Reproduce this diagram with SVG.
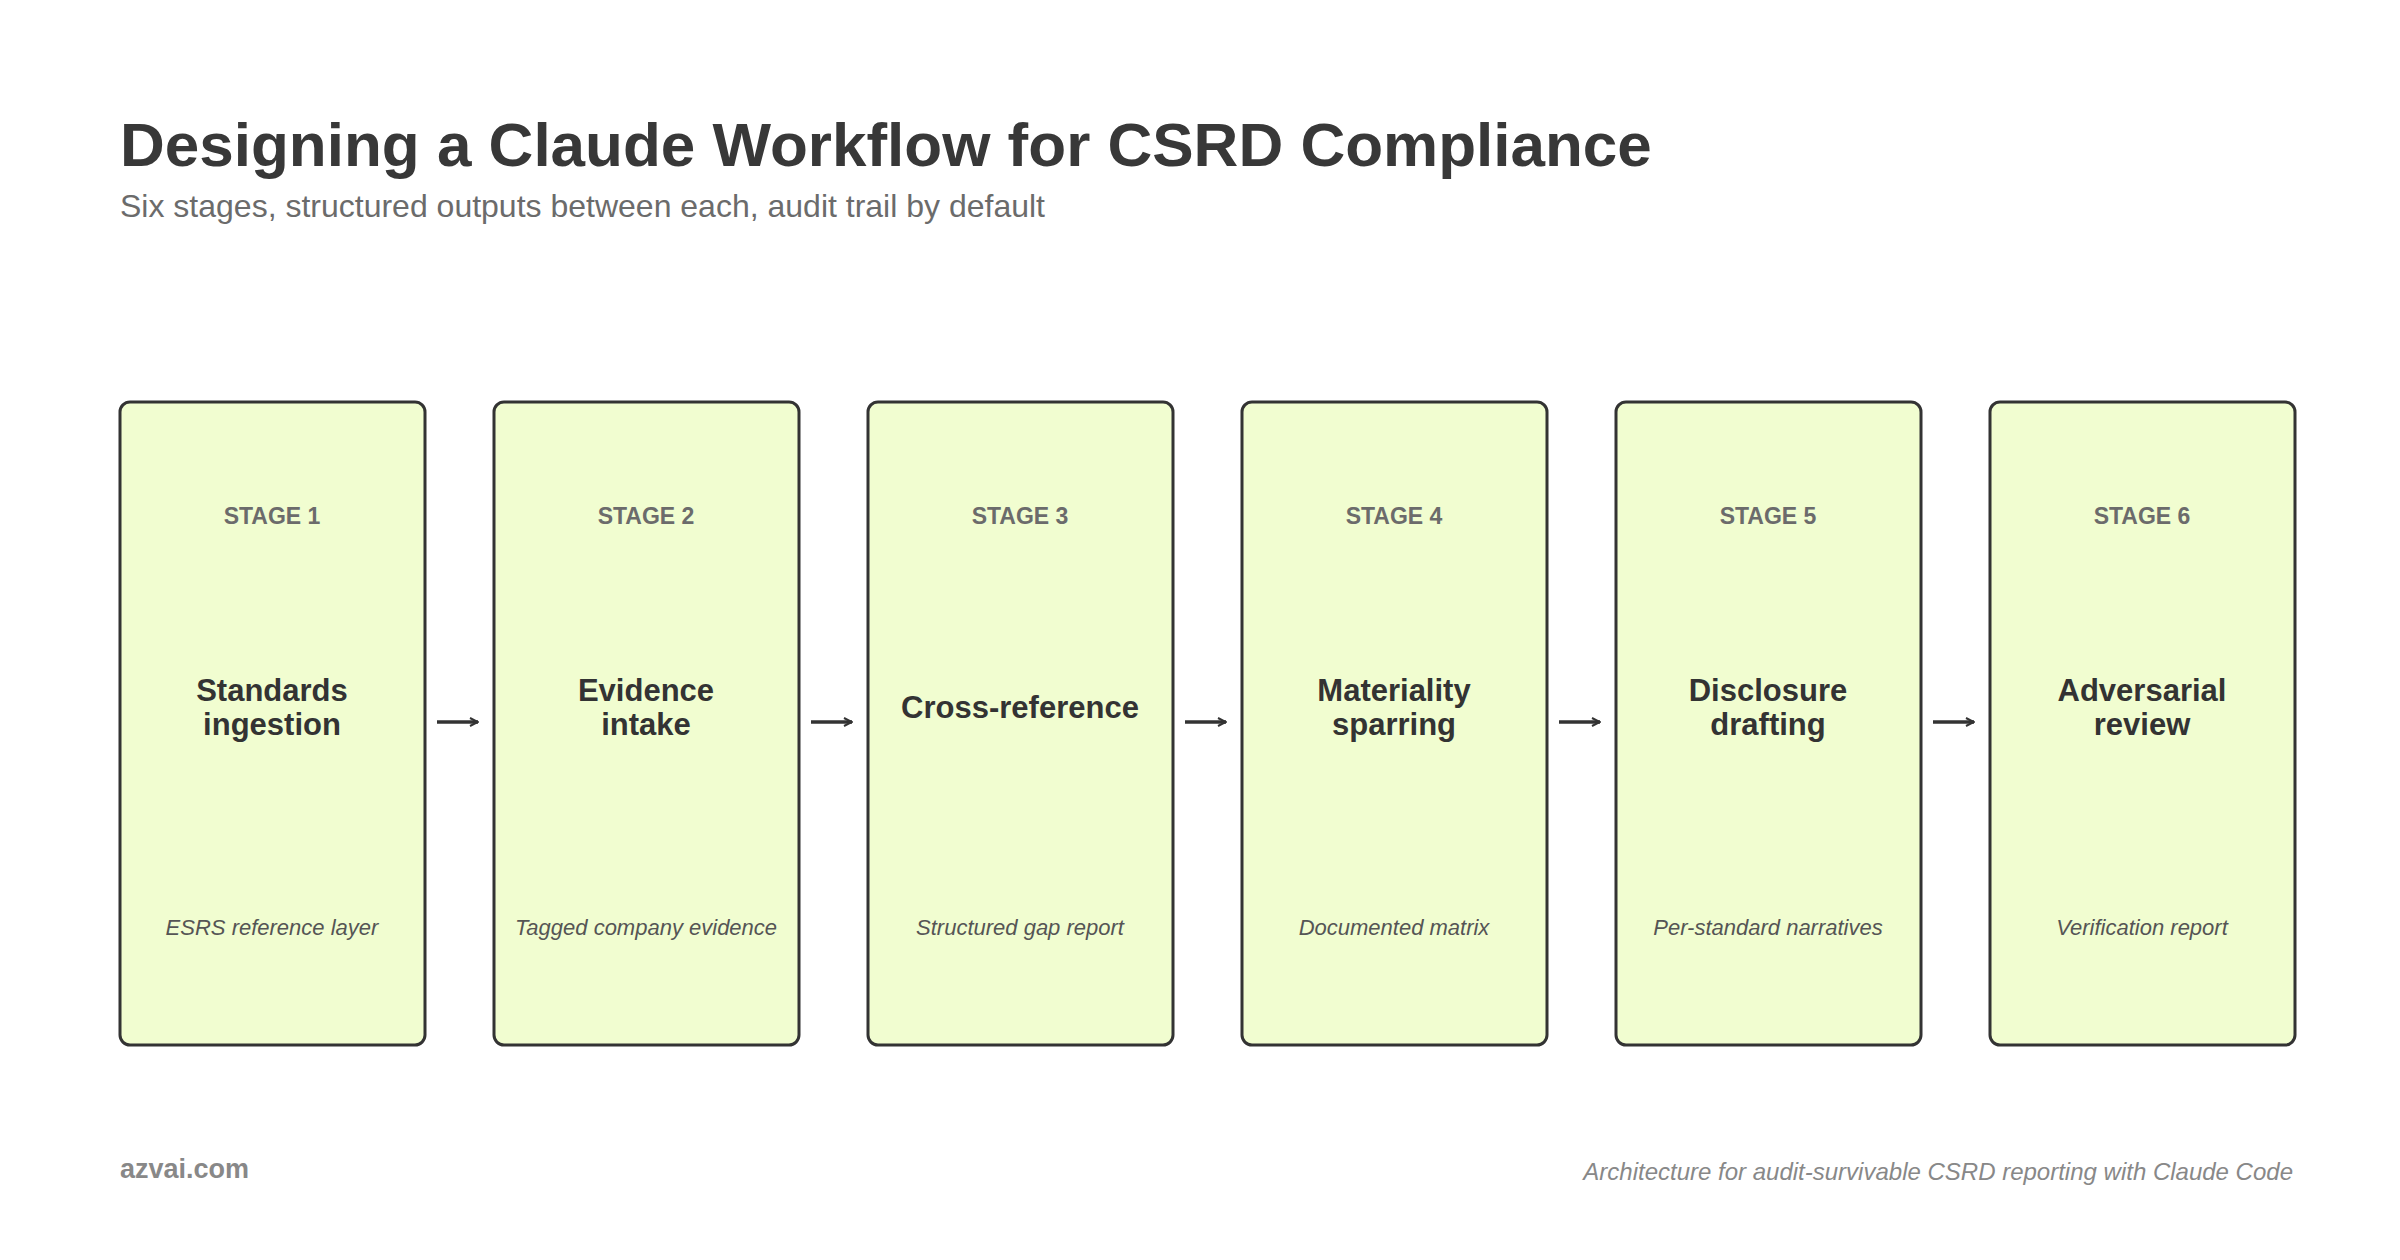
<svg xmlns="http://www.w3.org/2000/svg" width="2400" height="1260" viewBox="0 0 2400 1260">
<defs>
<style>
.box{fill:#f1fdd0;stroke:#333333;stroke-width:3}
.lbl{font-family:"Liberation Sans",Arial,sans-serif;font-size:23px;font-weight:bold;fill:#6b6b6b;text-anchor:middle}
.ttl{font-family:"Liberation Sans",Arial,sans-serif;font-size:31px;font-weight:bold;fill:#333333;text-anchor:middle}
.out{font-family:"Liberation Sans",Arial,sans-serif;font-size:22px;font-style:italic;fill:#555555;text-anchor:middle}
.arr{stroke:#333333;stroke-width:3.5;fill:none;marker-end:url(#ah)}
</style>
<marker id="ah" viewBox="0 0 10 10" refX="9" refY="5" markerWidth="10" markerHeight="10" markerUnits="userSpaceOnUse" orient="auto"><path d="M1,1 L9,5 L1,9" fill="none" stroke="#333333" stroke-width="2"/></marker>
</defs>
<rect width="2400" height="1260" fill="#ffffff"/>
<text x="120" y="166" font-family="Liberation Sans,Arial,sans-serif" font-size="62" font-weight="bold" fill="#383838">Designing a Claude Workflow for CSRD Compliance</text>
<text x="120" y="217" font-family="Liberation Sans,Arial,sans-serif" font-size="32" fill="#6b6b6b">Six stages, structured outputs between each, audit trail by default</text>
<g id="stage1"><rect class="box" x="120" y="402" width="305" height="643" rx="10"/><text class="lbl" x="272" y="524">STAGE 1</text><text class="ttl" x="272" y="701">Standards</text><text class="ttl" x="272" y="735">ingestion</text><text class="out" x="272" y="935">ESRS reference layer</text></g>
<g id="stage2"><rect class="box" x="494" y="402" width="305" height="643" rx="10"/><text class="lbl" x="646" y="524">STAGE 2</text><text class="ttl" x="646" y="701">Evidence</text><text class="ttl" x="646" y="735">intake</text><text class="out" x="646" y="935">Tagged company evidence</text></g>
<g id="stage3"><rect class="box" x="868" y="402" width="305" height="643" rx="10"/><text class="lbl" x="1020" y="524">STAGE 3</text><text class="ttl" x="1020" y="718">Cross-reference</text><text class="out" x="1020" y="935">Structured gap report</text></g>
<g id="stage4"><rect class="box" x="1242" y="402" width="305" height="643" rx="10"/><text class="lbl" x="1394" y="524">STAGE 4</text><text class="ttl" x="1394" y="701">Materiality</text><text class="ttl" x="1394" y="735">sparring</text><text class="out" x="1394" y="935">Documented matrix</text></g>
<g id="stage5"><rect class="box" x="1616" y="402" width="305" height="643" rx="10"/><text class="lbl" x="1768" y="524">STAGE 5</text><text class="ttl" x="1768" y="701">Disclosure</text><text class="ttl" x="1768" y="735">drafting</text><text class="out" x="1768" y="935">Per-standard narratives</text></g>
<g id="stage6"><rect class="box" x="1990" y="402" width="305" height="643" rx="10"/><text class="lbl" x="2142" y="524">STAGE 6</text><text class="ttl" x="2142" y="701">Adversarial</text><text class="ttl" x="2142" y="735">review</text><text class="out" x="2142" y="935">Verification report</text></g>
<g id="connectors">
<line class="arr" x1="437" y1="722" x2="478" y2="722"/>
<line class="arr" x1="811" y1="722" x2="852" y2="722"/>
<line class="arr" x1="1185" y1="722" x2="1226" y2="722"/>
<line class="arr" x1="1559" y1="722" x2="1600" y2="722"/>
<line class="arr" x1="1933" y1="722" x2="1974" y2="722"/>
</g>
<text x="120" y="1178" font-family="Liberation Sans,Arial,sans-serif" font-size="27" font-weight="bold" fill="#888888">azvai.com</text>
<text x="2293" y="1180" text-anchor="end" font-family="Liberation Sans,Arial,sans-serif" font-size="24" font-style="italic" fill="#888888">Architecture for audit-survivable CSRD reporting with Claude Code</text>
</svg>
